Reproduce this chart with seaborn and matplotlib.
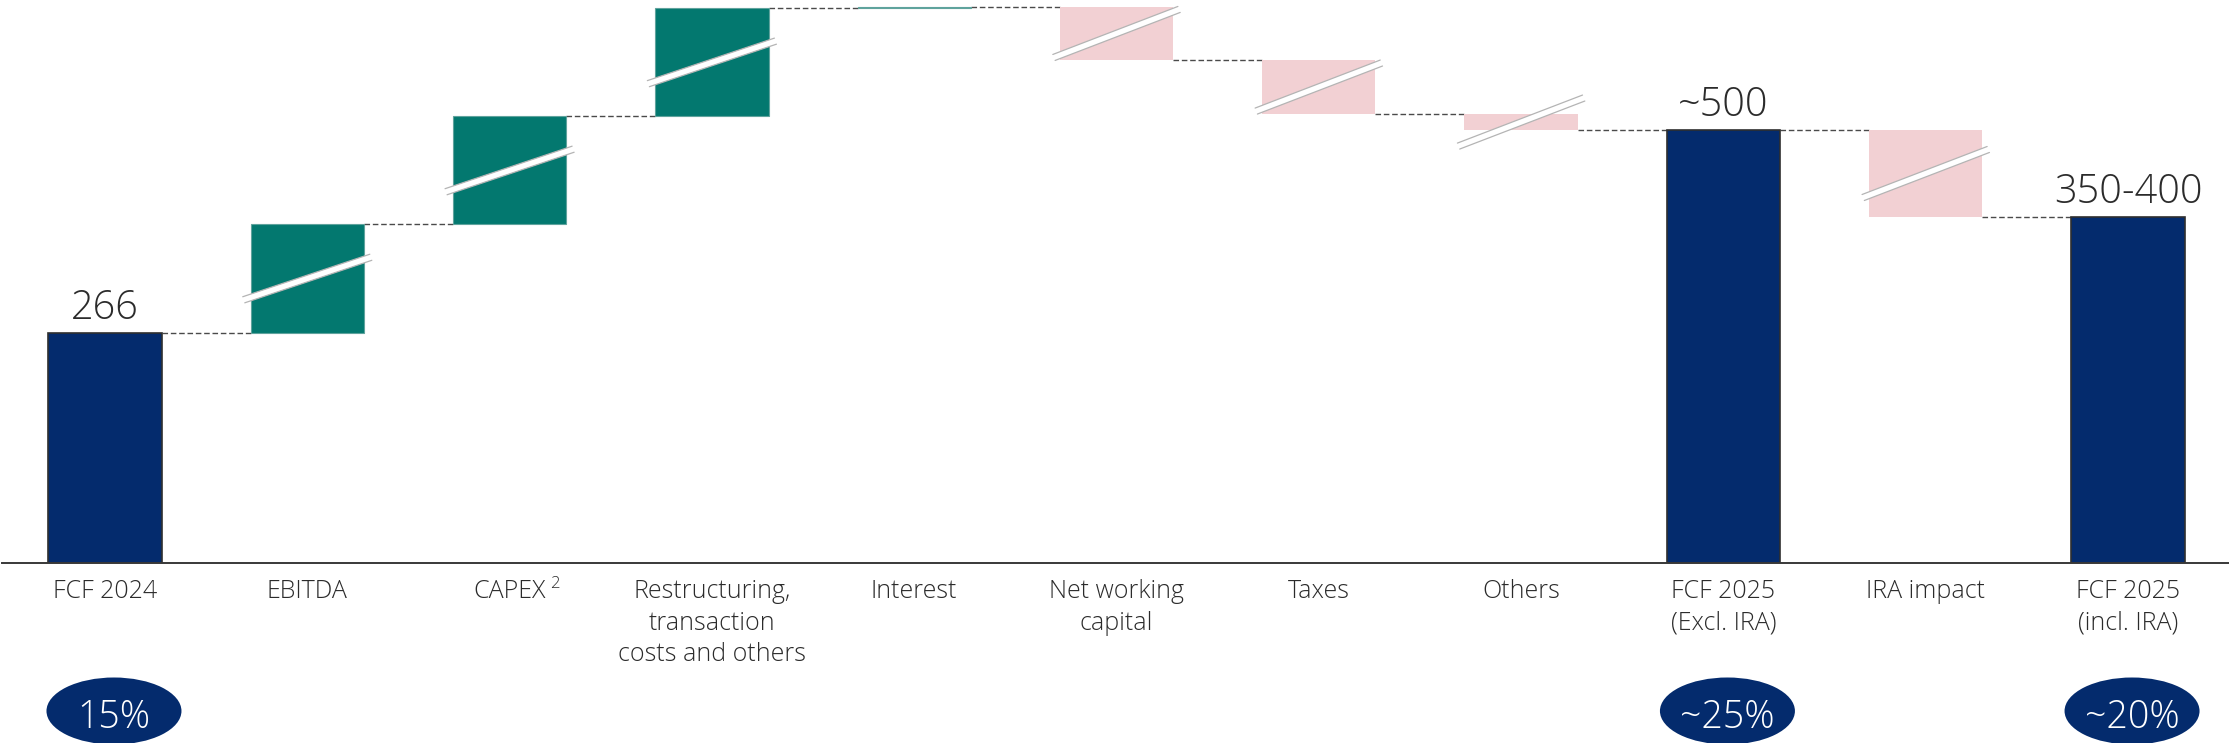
import numpy as np
import pandas as pd
import matplotlib
matplotlib.use("Agg")
import matplotlib.pyplot as plt
from matplotlib.patches import Ellipse, Polygon
from matplotlib.lines import Line2D
from matplotlib.transforms import IdentityTransform, ScaledTranslation
import seaborn as sns

# ---- data -------------------------------------------------------------
categories = ["FCF 2024", "EBITDA", "CAPEX", "Restructuring,\ntransaction\ncosts and others",
              "Interest", "Net working\ncapital", "Taxes", "Others",
              "FCF 2025\n(Excl. IRA)", "IRA impact", "FCF 2025\n(incl. IRA)"]
kinds = ["total", "up", "up", "up", "up", "down", "down", "down", "total", "down", "total"]
values = [266, 125, 125, 125, 2, -62, -62, -19, 500, -100, 400]
value_labels = {0: "266", 8: "~500", 10: "350-400"}
broken_axis = [False, True, True, True, False, True, True, True, False, True, False]
margin_labels = {0: "15%", 8: "~25%", 10: "~20%"}
footnote_marks = {2: "2"}

# ---- style ------------------------------------------------------------
NAVY = "#042B6D"
TEAL = "#03786F"
PINK = "#F2D0D3"
TEXT = "#2b2b2b"

sns.set_theme(style="white")
plt.rcParams["font.family"] = ["Open Sans", "DejaVu Sans"]
plt.rcParams["font.weight"] = "light"

W, H, DPI = 2229, 743, 100
fig = plt.figure(figsize=(W / DPI, H / DPI), dpi=DPI)
fig.patch.set_facecolor("white")
ax = fig.add_axes([2 / W, 180.5 / H, (W - 2) / W, 561.9 / H])

# ---- waterfall geometry ----------------------------------------------
bottoms, heights, levels = [], [], []
running = 0
for kind, v in zip(kinds, values):
    if kind == "total":
        bottoms.append(0)
        heights.append(v)
        running = v
    elif kind == "up":
        bottoms.append(running)
        heights.append(v)
        running += v
    else:
        running += v
        bottoms.append(running)
        heights.append(-v)
    levels.append(running)

df = pd.DataFrame({"category": categories, "kind": kinds,
                   "bottom": bottoms, "height": heights, "level": levels})

style = {
    "total": dict(color=NAVY, edgecolor="#2f2f2f", linewidth=1.2),
    "up": dict(color=TEAL, edgecolor="#5fa39d", linewidth=0.8),
    "down": dict(color=PINK, edgecolor="none", linewidth=0),
}

BAR_W = 0.56
for _, row in df.iterrows():
    st = style[row["kind"]]
    sns.barplot(x=[row["category"]], y=[row["height"]], order=categories,
                bottom=row["bottom"], width=BAR_W, saturation=1, errorbar=None,
                color=st["color"], edgecolor=st["edgecolor"], linewidth=st["linewidth"],
                ax=ax, zorder=2)

# dashed connectors between consecutive bars
for i in range(len(categories) - 1):
    lvl = df["level"].iloc[i]
    ax.plot([i + BAR_W / 2, i + 1 - BAR_W / 2], [lvl, lvl], color="#4a4a4a",
            lw=1.0, ls=(0, (4, 2)), zorder=1, clip_on=False)

ax.set_xlim(-0.509, 10.499)
ax.set_ylim(0, 650)

# ---- axis styling ------------------------------------------------------
for side in ["left", "right", "top"]:
    ax.spines[side].set_visible(False)
ax.spines["bottom"].set_color("#383838")
ax.spines["bottom"].set_linewidth(1.4)
ax.spines["bottom"].set_zorder(3)
ax.set_yticks([])
ax.set_xlabel("")
ax.set_ylabel("")
ax.set_xticks(range(len(categories)))
ax.set_xticklabels(categories, fontsize=18, color=TEXT, linespacing=1.35)
ax.tick_params(axis="x", length=0, pad=12)

# value labels above total bars
for i, txt in value_labels.items():
    top = df["bottom"].iloc[i] + df["height"].iloc[i]
    ax.annotate(txt, xy=(i, top), xytext=(0, 14), textcoords="offset pixels",
                ha="center", va="baseline", fontsize=28.5, color=TEXT)

# break marks on the step bars (bars not drawn to scale)
def draw_break(x, y, angle_deg, half_len=67, half_thick=3.2):
    tr = fig.dpi_scale_trans + ScaledTranslation(x, y, ax.transData)
    a = np.deg2rad(angle_deg)
    d = np.array([np.cos(a), np.sin(a)])
    n = np.array([-np.sin(a), np.cos(a)])
    p1 = n * half_thick - d * half_len
    p2 = n * half_thick + d * half_len
    p3 = -n * half_thick + d * half_len
    p4 = -n * half_thick - d * half_len
    pts = np.array([p1, p2, p3, p4]) / DPI
    ax.add_patch(Polygon(pts, closed=True, facecolor="white", edgecolor="none",
                         transform=tr, zorder=4, clip_on=False))
    for a_, b_ in [(p1, p2), (p4, p3)]:
        ax.add_line(Line2D([a_[0] / DPI, b_[0] / DPI], [a_[1] / DPI, b_[1] / DPI],
                           color="#b4b4b4", lw=0.9, transform=tr, zorder=5, clip_on=False))

for i, brk in enumerate(broken_axis):
    if brk:
        cy = df["bottom"].iloc[i] + df["height"].iloc[i] / 2
        angle = 18.5 if df["kind"].iloc[i] == "up" else 21
        draw_break(i, cy, angle)

# margin badges under selected bars
ax.set_xlim(-0.509, 10.499)
ax.set_ylim(0, 650)
for i, txt in margin_labels.items():
    xd = ax.transData.transform((i, 0))[0] + (9 if i == 0 else 4)
    fig.add_artist(Ellipse((xd, 32), 135, 67, transform=IdentityTransform(),
                           facecolor=NAVY, edgecolor="none", clip_on=False))
    fig.add_artist(plt.Text(xd, 15.5, txt, transform=IdentityTransform(),
                            ha="center", va="baseline", fontsize=27, color="white"))

# footnote marker placed right after its category label
fig.canvas.draw()
renderer = fig.canvas.get_renderer()
tick_texts = ax.get_xticklabels()
for i, mark in footnote_marks.items():
    bb = tick_texts[i].get_window_extent(renderer)
    fig.add_artist(plt.Text(bb.x1 + 4, bb.y1 + 3, mark, transform=IdentityTransform(),
                            ha="left", va="top", fontsize=12, color=TEXT))

fig.savefig("out.png", dpi=DPI, facecolor="white")
